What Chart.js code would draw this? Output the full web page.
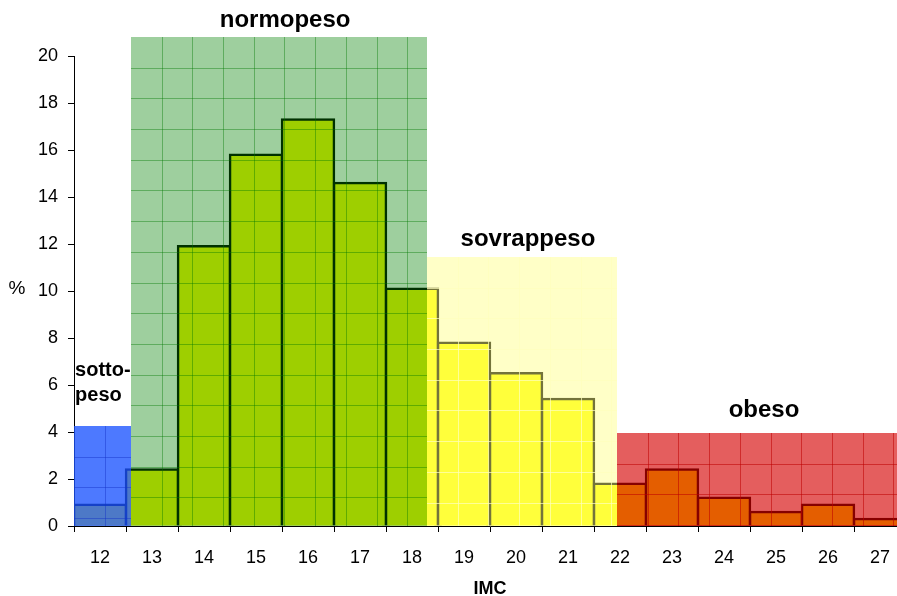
<!DOCTYPE html>
<html>
<head>
<meta charset="utf-8">
<script src="https://cdn.jsdelivr.net/npm/chart.js@4.4.0/dist/chart.umd.min.js"></script>
<style>
html, body { margin: 0; padding: 0; overflow: hidden; background: #fff; }
#wrap { position: absolute; left: 0; top: 0; width: 912px; height: 596px; }
</style>
</head>
<body>
<div id="wrap"><canvas id="chart" width="912" height="596"></canvas></div>
<script>
// dati
const imcLabels = ['12', '13', '14', '15', '16', '17', '18', '19', '20', '21', '22', '23', '24', '25', '26', '27'];
const percentValues = [0.9, 2.4, 11.9, 15.8, 17.3, 14.6, 10.1, 7.8, 6.5, 5.4, 1.8, 2.4, 1.2, 0.6, 0.9, 0.3];
const yTicks = [0, 2, 4, 6, 8, 10, 12, 14, 16, 18, 20];

// fasce di IMC (in unita' dell'asse x) e altezza dei riquadri (%)
const zoneNames = ['sotto-\npeso', 'normopeso', 'sovrappeso', 'obeso'];
const zoneFrom = [11.5, 12.6, 18.29, 21.94];
const zoneTo = [12.6, 18.29, 21.94, 27.5];
const zoneHeight = [4.26, 20.8, 11.45, 3.96];

// stile delle fasce
const zoneFill = ['rgba(27,83,255,0.78)', 'rgba(0,128,0,0.38)', 'rgba(255,255,130,0.45)', 'rgba(213,0,0,0.63)'];
const zoneLine = ['rgba(20,50,200,0.45)', 'rgba(0,120,0,0.4)', 'rgba(255,255,190,0.7)', 'rgba(190,0,0,0.55)'];
const labelX = [11.52, 15.56, 20.23, 24.77];
const labelY = [6.6, 21.5, 12.2, 4.9];
const labelAlign = ['left', 'center', 'center', 'center'];
const labelSize = [20, 24, 24, 24];
const cell = 30.7;

const zonePlugin = {
    id: 'zones',
    afterDatasetsDraw(chart) {
        const {ctx, scales: {x, y}} = chart;
        const first = Number(imcLabels[0]);
        ctx.save();
        zoneFrom.forEach((from, i) => {
            const x0 = Math.round(x.getPixelForValue(from - first));
            const x1 = Math.round(x.getPixelForValue(zoneTo[i] - first));
            const y0 = Math.round(y.getPixelForValue(zoneHeight[i]));
            const y1 = Math.round(y.getPixelForValue(0));
            ctx.fillStyle = zoneFill[i];
            ctx.fillRect(x0, y0, x1 - x0, y1 - y0);
            ctx.strokeStyle = zoneLine[i];
            ctx.lineWidth = 1;
            ctx.beginPath();
            for (let gx = x0 + cell; gx < x1; gx += cell) {
                ctx.moveTo(Math.round(gx) + 0.5, y0);
                ctx.lineTo(Math.round(gx) + 0.5, y1);
            }
            for (let gy = y0 + cell; gy < y1; gy += cell) {
                ctx.moveTo(x0, Math.round(gy) + 0.5);
                ctx.lineTo(x1, Math.round(gy) + 0.5);
            }
            ctx.stroke();
        });
        ctx.restore();
    },
    afterDraw(chart) {
        const {ctx, scales: {x, y}} = chart;
        const first = Number(imcLabels[0]);
        ctx.save();
        ctx.fillStyle = '#000';
        ctx.textBaseline = 'middle';
        zoneNames.forEach((name, i) => {
            ctx.font = 'bold ' + labelSize[i] + 'px "Liberation Sans", Arial, sans-serif';
            ctx.textAlign = labelAlign[i];
            const px = x.getPixelForValue(labelX[i] - first);
            const py = y.getPixelForValue(labelY[i]);
            name.split('\n').forEach((line, k) => {
                ctx.fillText(line, px, py + k * 25);
            });
        });
        // titolo asse y, orizzontale
        ctx.font = '19px "Liberation Sans", Arial, sans-serif';
        ctx.textAlign = 'center';
        ctx.fillText('%', 17, y.getPixelForValue(10) - 2);
        ctx.restore();
    }
};

const ctx = document.getElementById('chart').getContext('2d');
const chart = new Chart(ctx, {
    type: 'bar',
    data: {
        labels: imcLabels,
        datasets: [{
            label: '%',
            data: percentValues,
            backgroundColor: '#ffff00',
            borderColor: '#000000',
            borderWidth: 2.5,
            borderSkipped: 'bottom',
            inflateAmount: 1.25,
            barPercentage: 1,
            categoryPercentage: 1
        }]
    },
    options: {
        responsive: false,
        animation: false,
        devicePixelRatio: 1,
        layout: {
            padding: { top: 56, right: 6, left: 0, bottom: 0 }
        },
        plugins: {
            legend: { display: false },
            tooltip: { enabled: false }
        },
        scales: {
            x: {
                z: 1,
                offset: true,
                grid: {
                    offset: true,
                    drawOnChartArea: false,
                    drawTicks: true,
                    tickLength: 6,
                    color: '#000'
                },
                border: { color: '#000', width: 1 },
                ticks: {
                    color: '#000',
                    padding: 15,
                    maxRotation: 0,
                    font: { family: '"Liberation Sans", Arial, sans-serif', size: 18 }
                },
                title: {
                    display: true,
                    text: 'IMC',
                    color: '#000',
                    padding: { top: 0, bottom: 0 },
                    font: { family: '"Liberation Sans", Arial, sans-serif', size: 18, weight: 'bold', lineHeight: 0.8 }
                },
                afterFit(scale) { scale.height = 70; }
            },
            y: {
                z: 1,
                min: 0,
                max: 20,
                afterBuildTicks(scale) { scale.ticks = yTicks.map(v => ({ value: v })); },
                grid: {
                    drawOnChartArea: false,
                    drawTicks: true,
                    tickLength: 6,
                    color: '#000'
                },
                border: { color: '#000', width: 1 },
                ticks: {
                    color: '#000',
                    padding: 10,
                    font: { family: '"Liberation Sans", Arial, sans-serif', size: 18 }
                },
                afterFit(scale) { scale.width = 74; }
            }
        }
    },
    plugins: [zonePlugin]
});
</script>
</body>
</html>
